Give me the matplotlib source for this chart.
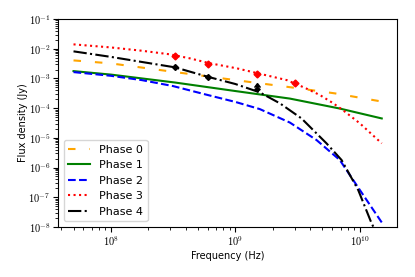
import numpy as np
import matplotlib
matplotlib.use("Agg")
import matplotlib.pyplot as plt
from matplotlib.ticker import FuncFormatter, LogLocator

plt.rcParams['mathtext.fontset'] = 'cm'
plt.rcParams['font.size'] = 7

# Phase 0 (orange dashed)
f0 = [5.0e7, 1.0e8, 3.15e8, 1.0e9, 2.83e9, 6.3e9, 1.5e10]
s0 = [4.06e-3, 3.22e-3, 1.68e-3, 8.8e-4, 5.0e-4, 3.15e-4, 1.67e-4]

# Phase 1 (green solid)
f1 = [5.0e7, 1.0e8, 3.27e8, 1.0e9, 2.74e9, 6.9e9, 1.5e10]
s1 = [1.77e-3, 1.35e-3, 7.3e-4, 3.77e-4, 2.1e-4, 9.7e-5, 4.5e-5]

# Phase 2 (blue dashed)
f2 = [5.0e7, 1.0e8, 1.77e8, 3.15e8, 5.58e8, 1.01e9, 1.57e9, 2.74e9,
      4.49e9, 6.9e9, 1.0e10, 1.5e10]
s2 = [1.64e-3, 1.23e-3, 8.8e-4, 5.55e-4, 2.99e-4, 1.6e-4, 9.3e-5, 3.27e-5,
      8.4e-6, 1.79e-6, 1.75e-7, 1.41e-8]

# Phase 3 (red dotted)
f3 = [5.0e7, 1.0e8, 1.77e8, 2.98e8, 4.32e8, 6.12e8, 1.03e9, 1.49e9, 2.59e9,
      3.61e9, 4.78e9, 6.07e9, 7.3e9, 1.0e10, 1.5e10]
s3 = [1.41e-2, 1.11e-2, 8.6e-3, 6.5e-3, 4.75e-3, 3.3e-3, 2.19e-3, 1.52e-3,
      8.8e-4, 4.86e-4, 2.76e-4, 1.49e-4, 8.6e-5, 3.08e-5, 6.5e-6]

# Phase 4 (black dash-dot)
f4 = [5.0e7, 1.0e8, 1.77e8, 3.27e8, 6.0e8, 1.0e9, 1.57e9, 2.28e9, 3.4e9,
      5.4e9, 7.13e9, 9.7e9, 1.24e10, 1.32e10]
s4 = [8.2e-3, 5.33e-3, 3.6e-3, 2.37e-3, 1.14e-3, 6.5e-4, 3.4e-4, 1.45e-4,
      4.5e-5, 6.5e-6, 1.79e-6, 1.75e-7, 1.35e-8, 8e-9]

# measured points
obs_f3 = [3.27e8, 6.07e8, 1.50e9, 3.0e9]
obs_s3 = [5.68e-3, 3.18e-3, 1.46e-3, 7.3e-4]
obs_f4 = [3.27e8, 6.07e8]
obs_s4 = [2.37e-3, 1.11e-3]
lim_f4 = [1.50e9]
lim_s4 = [4.4e-4]

fig = plt.figure(figsize=(4.15, 2.77), dpi=100)
ax = fig.add_axes([0.140, 0.181, 0.817, 0.750])

ax.plot(f0, s0, color='orange', lw=1.5, dashes=(3.6, 6.7), label='Phase 0')
ax.plot(f1, s1, color='g', lw=1.5, ls='-', label='Phase 1')
ax.plot(f2, s2, color='b', lw=1.5, ls='--', label='Phase 2')
ax.plot(f3, s3, color='r', lw=1.5, ls=':', label='Phase 3')
ax.plot(f4, s4, color='k', lw=1.5, ls='-.', label='Phase 4')

ax.plot(obs_f3, obs_s3, 'rD', ms=3.5)
ax.errorbar(obs_f4, obs_s4, yerr=[x*0.15 for x in obs_s4], fmt='kD', ms=3, lw=1)
ax.errorbar(lim_f4, lim_s4, yerr=[x*0.2 for x in lim_s4], fmt='kD', ms=2.5,
            lw=1, lolims=True, capsize=2)

ax.set_xscale('log')
ax.set_yscale('log')
ax.set_ylim(1e-8, 1e-1)
ax.yaxis.set_major_locator(LogLocator(base=10, numticks=20))
ax.yaxis.set_minor_locator(LogLocator(base=10, subs=np.arange(2, 10), numticks=20))

fmt = FuncFormatter(lambda v, p: r'$10^{%d}$' % int(round(np.log10(v))))
ax.xaxis.set_major_formatter(fmt)
ax.yaxis.set_major_formatter(fmt)
ax.tick_params(labelsize=7.5, pad=2)

ax.set_xlabel('Frequency (Hz)', labelpad=2)
ax.set_ylabel('Flux density (Jy)', labelpad=0)
ax.legend(loc='lower left', fontsize=8)

fig.savefig('out.png', dpi=100)
